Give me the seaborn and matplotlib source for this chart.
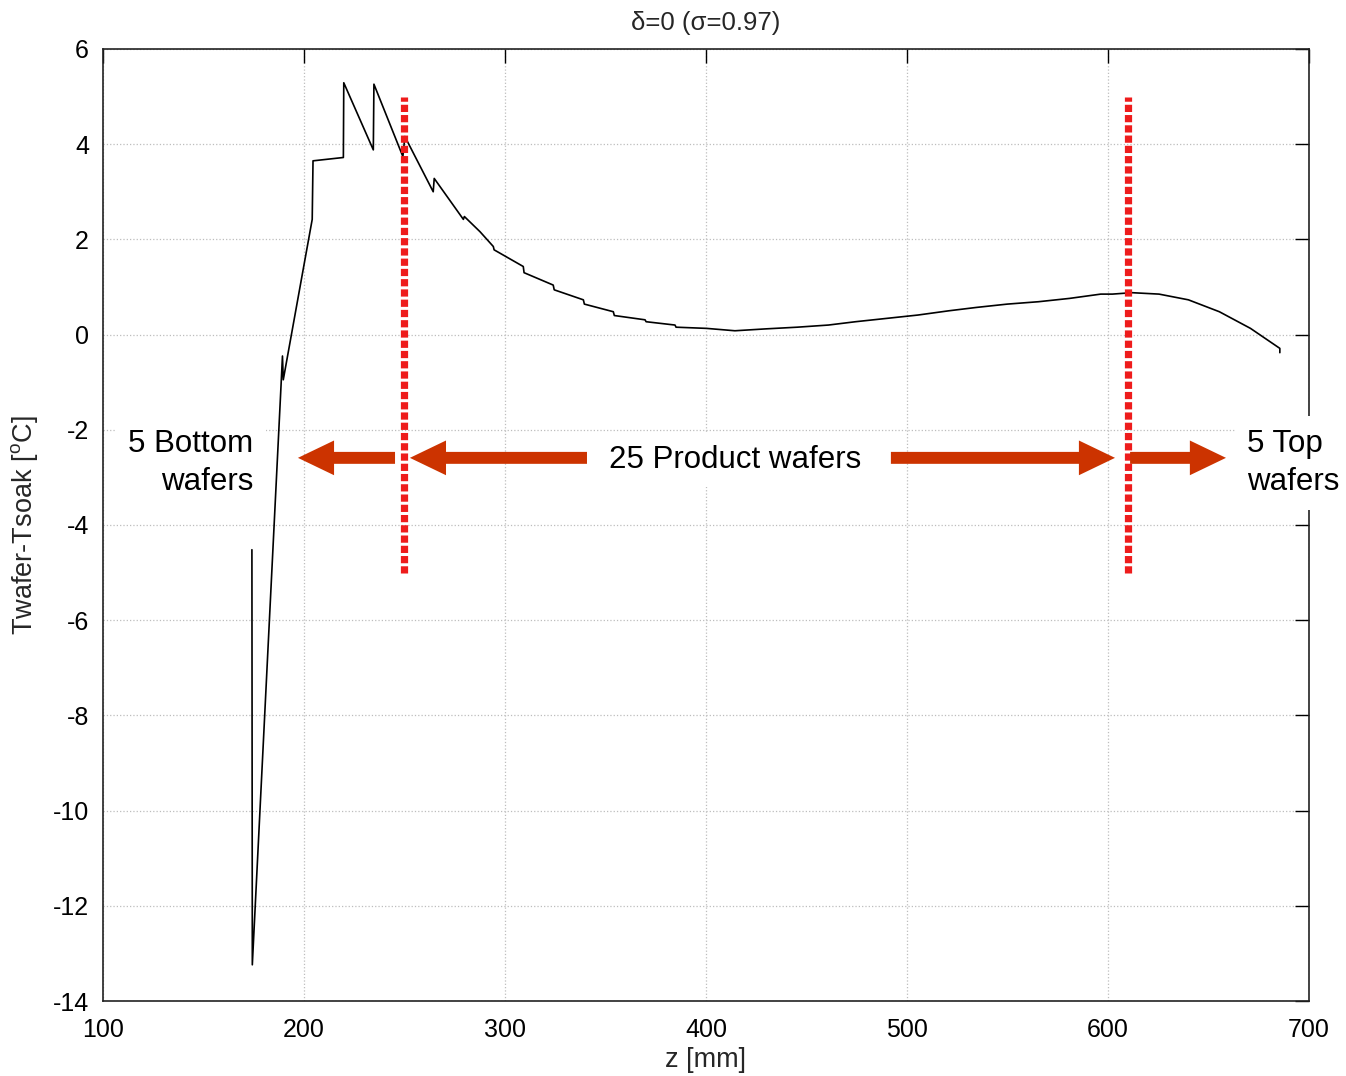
import numpy as np
import pandas as pd
import matplotlib
matplotlib.use("Agg")
import matplotlib.pyplot as plt
import seaborn as sns

# ---- data ----
z_mm = [174.1, 174.3, 188.6, 189.3, 189.7, 204.1, 204.5, 219.6, 219.8,
        234.5, 234.8, 249.2, 250.2, 264.3, 264.8, 279.3, 279.8, 287.6,
        294.2, 294.6, 309.1, 309.5, 324.0, 324.5, 339.0, 339.5, 353.9,
        354.4, 369.7, 370.2, 384.6, 385.1, 400.3, 414.4, 429.9, 445.4,
        460.9, 474.4, 489.9, 505.4, 520.9, 534.5, 549.9, 565.4, 580.9,
        596.4, 602.2, 611.9, 625.4, 640.0, 655.4, 670.9, 685.5, 685.5]
dT = [-4.52, -13.24, -1.06, -0.45, -0.95, 2.42, 3.65, 3.72, 5.29,
      3.88, 5.26, 3.74, 4.16, 3.00, 3.28, 2.42, 2.48, 2.16,
      1.85, 1.78, 1.43, 1.30, 1.04, 0.94, 0.73, 0.64, 0.48,
      0.40, 0.31, 0.27, 0.20, 0.155, 0.13, 0.08, 0.12, 0.155,
      0.20, 0.27, 0.34, 0.41, 0.50, 0.57, 0.64, 0.69, 0.76,
      0.85, 0.85, 0.88, 0.85, 0.73, 0.48, 0.13, -0.29, -0.38]

boundary_z = [250, 610]
boundary_span = [-5, 5]

arrow_y = -2.59
arrows = [  # (tail_z, head_z)
    (245.3, 197.0),
    (340.8, 252.7),
    (492.0, 603.5),
    (611.0, 658.7),
]
labels = ["5 Bottom\nwafers", "25 Product wafers", "5 Top\nwafers"]
label_z = [174.8, 414.5, 669.2]
label_y = [-2.70, -2.63, -2.70]
label_ha = ["right", "center", "left"]

title = "δ=0 (σ=0.97)"
xlabel = "z [mm]"
ylabel = "Twafer-Tsoak [$^{\\mathrm{o}}$C]"
xticks = [100, 200, 300, 400, 500, 600, 700]
yticks = [6, 4, 2, 0, -2, -4, -6, -8, -10, -12, -14]

# ---- style ----
sns.set_style("white")
plt.rcParams["font.family"] = ["Liberation Sans", "DejaVu Sans"]
plt.rcParams["mathtext.fontset"] = "custom"
plt.rcParams["mathtext.rm"] = "Liberation Sans"
plt.rcParams["axes.unicode_minus"] = False

fig = plt.figure(figsize=(13.46, 10.76), dpi=100)
ax = fig.add_axes([0.0765, 0.0697, 0.896, 0.8848])

df = pd.DataFrame({"z": z_mm, "dT": dT})
sns.lineplot(data=df, x="z", y="dT", sort=False, estimator=None,
             color="black", linewidth=1.2, ax=ax, zorder=3)

ax.vlines(boundary_z, boundary_span[0], boundary_span[1], colors="#ee1c1c",
          linewidth=5.2, linestyles=[(0, (1.0, 0.42))], zorder=4)

for tail, head in arrows:
    ax.annotate("", xy=(head, arrow_y), xytext=(tail, arrow_y),
                arrowprops=dict(arrowstyle="simple,head_length=26,head_width=25,tail_width=8.6",
                                mutation_scale=1, shrinkA=0, shrinkB=0,
                                color="#cc3300", lw=0),
                zorder=5)

for txt, zx, zy, ha in zip(labels, label_z, label_y, label_ha):
    ax.text(zx, zy, txt, ha=ha, va="center", fontsize=22.5, color="black",
            linespacing=1.36, zorder=6, clip_on=False,
            bbox=dict(facecolor="white", edgecolor="none", pad=9))

ax.set_xlim(100, 700)
ax.set_ylim(-14, 6)
ax.set_xticks(xticks)
ax.set_yticks(yticks)
ax.tick_params(direction="in", top=True, right=True, length=10, width=1,
               labelsize=18, pad=10, colors="black")
ax.tick_params(axis="x", pad=12)
ax.grid(True, linestyle=":", color="#bdbdbd", linewidth=0.9)
for s in ax.spines.values():
    s.set_color("#222222")
    s.set_linewidth(1.2)

ax.set_title(title, fontsize=18.5, pad=14)
ax.set_xlabel(xlabel, fontsize=19.5, labelpad=4)
ax.set_ylabel(ylabel, fontsize=19.5, labelpad=9)

fig.savefig("out.png", dpi=100)
